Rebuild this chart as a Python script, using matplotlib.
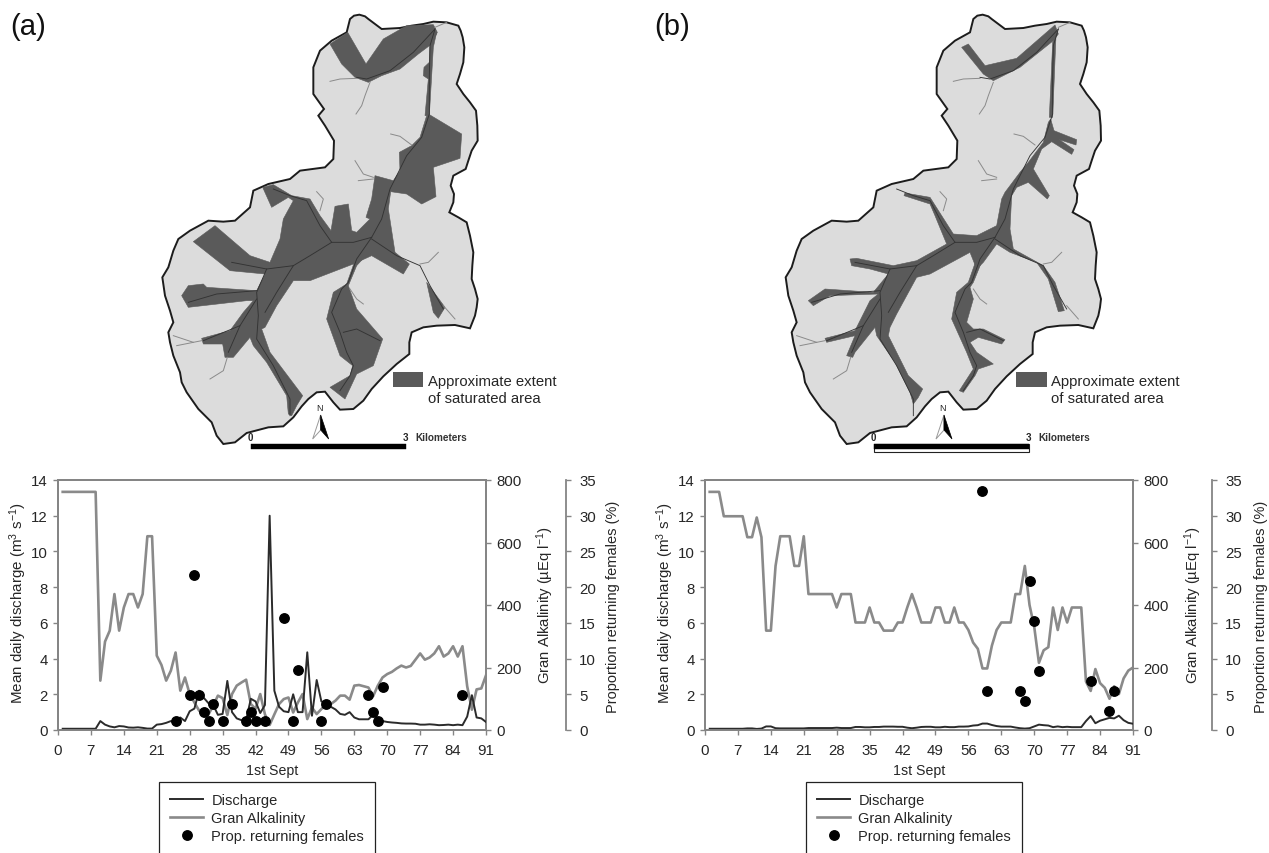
import matplotlib
matplotlib.use("Agg")
import matplotlib.pyplot as plt
from matplotlib.patches import Polygon, Rectangle

plt.rcParams['font.family'] = ['Liberation Sans', 'DejaVu Sans']
plt.rcParams['mathtext.default'] = 'regular'
plt.rcParams['axes.unicode_minus'] = True

W, H = 1269, 854
TEXT = '#262626'
AXC = '#858585'

days = list(range(1, 92))
x_ticks = list(range(0, 92, 7))
left_ticks = [0, 2, 4, 6, 8, 10, 12, 14]
alk_ticks = [0, 200, 400, 600, 800]
prop_ticks = [0, 5, 10, 15, 20, 25, 30, 35]

discharge_a = [.07, .07, .07, .07, .07, .07, .07, .07, .5, .3, .2, .15, .22, .2, .14, .13, .15, .12, .08, .08,
               .3, .33, .4, .5, .42, .7, .5, 1.05, 1.2, 2.2, 1.8, 1.5, 1.4, .85, .9, 2.75, 1.0, .65, .55, .55,
               1.75, 1.6, .95, 1.4, 12.0, 2.2, 1.3, 1.05, 1.0, 2.0, 1.0, 1.0, 4.35, .8, 2.8, 1.6, 1.5, 1.3, 1.15, .9,
               .85, 1.0, .7, .6, .6, .6, .85, .65, .5, .45, .42, .4, .37, .36, .36, .35, .3, .3, .32, .3,
               .27, .28, .3, .27, .3, .27, .75, 1.95, .7, .65, .45]
alk_a = [762, 762, 762, 762, 762, 762, 762, 762, 158, 283, 318, 435, 318, 392, 435, 435, 392, 435, 620, 620,
         238, 208, 158, 190, 248, 126, 168, 115, 88, 62, 50, 50, 78, 110, 102, 48, 115, 142, 152, 161,
         83, 68, 115, 50, 16, 50, 83, 99, 104, 56, 88, 115, 35, 72, 51, 67, 83, 83, 94, 110,
         110, 97, 142, 144, 140, 136, 108, 142, 168, 179, 186, 197, 206, 200, 205, 225, 245, 225, 232, 245,
         268, 235, 245, 268, 235, 268, 140, 65, 130, 133, 175]
prop_days_a = [25, 28, 29, 30, 31, 32, 33, 35, 37, 40, 41, 42, 44, 48, 50, 51, 56, 57, 66, 67, 68, 69, 86]
prop_a = [1.25, 4.85, 21.7, 4.85, 2.5, 1.25, 3.7, 1.25, 3.7, 1.25, 2.5, 1.25, 1.25, 15.7, 1.25, 8.45, 1.25, 3.7,
          4.85, 2.5, 1.25, 6.0, 4.85]

discharge_b = [.07, .07, .07, .07, .07, .07, .07, .07, .09, .09, .06, .08, .2, .2, .1, .09, .09, .09, .09, .09,
               .09, .11, .11, .11, .11, .11, .11, .13, .11, .11, .11, .17, .17, .15, .15, .17, .17, .19, .19, .19,
               .18, .18, .13, .1, .13, .17, .18, .18, .15, .15, .18, .16, .16, .19, .19, .2, .25, .27, .36, .36,
               .28, .22, .19, .19, .19, .14, .1, .08, .1, .2, .3, .27, .25, .16, .2, .16, .18, .16, .16, .16,
               .5, .78, .38, .52, .6, .68, .65, .8, .55, .4, .35]
alk_b = [762, 762, 762, 684, 684, 684, 684, 684, 617, 617, 680, 617, 318, 318, 525, 620, 620, 620, 525, 525,
         620, 435, 435, 435, 435, 435, 435, 392, 435, 435, 435, 344, 344, 344, 392, 344, 344, 318, 318, 318,
         344, 344, 392, 435, 392, 344, 344, 344, 392, 392, 344, 344, 392, 344, 344, 320, 280, 260, 197, 197,
         270, 320, 344, 344, 344, 435, 435, 525, 400, 330, 215, 255, 265, 392, 320, 392, 344, 392, 392, 392,
         155, 125, 195, 150, 135, 100, 140, 115, 165, 190, 200]
prop_days_b = [59, 60, 67, 68, 69, 70, 71, 82, 86, 87]
prop_b = [33.4, 5.5, 5.5, 4.1, 20.8, 15.3, 8.3, 6.9, 2.7, 5.5]

# map geometry, in units of a third of a pixel
boundary = [(600,60),(612,50),(628,47),(645,52),(655,60),(675,75),(695,90),(750,87),(785,80),(820,75),(850,68),(890,70),(925,80),
            (932,95),(938,115),(943,145),(940,190),(930,225),(920,255),(940,285),(960,310),(978,335),(982,380),(983,425),(965,455),
            (955,485),(947,510),(910,530),(902,560),(912,585),(910,610),(898,640),(925,655),(950,670),(960,710),(970,760),
            (967,800),(965,840),(975,870),(983,900),(980,925),(975,950),(960,988),(915,978),(860,980),(820,985),(785,1000),
            (778,1030),(778,1065),(740,1095),(700,1132),(665,1170),(640,1205),(610,1230),(570,1232),(550,1210),(525,1178),
            (500,1180),(475,1200),(455,1222),(430,1255),(400,1282),(355,1285),(290,1302),(255,1330),(220,1335),(200,1310),
            (185,1270),(145,1230),(110,1180),(95,1150),(90,1120),(70,1070),(60,1030),(55,1000),(70,970),(60,935),(45,890),
            (37,835),(55,805),(70,755),(85,720),(120,695),(175,665),(220,668),(255,665),(300,625),(310,575),(355,555),
            (420,540),(450,515),(525,505),(550,480),(552,425),(525,380),(505,350),(522,330),(490,285),(490,205),(510,155),
            (545,125),(590,100)]
sat_a = [
    [(540,135),(593,100),(648,195),(700,120),(770,80),(850,77),(862,100),(845,135),(805,165),(750,210),(695,230),(655,250),(615,235),(575,195)],
    [(840,135),(860,100),(850,145),(838,350),(825,350),(835,240),(820,230),(822,205),(838,190)],
    [(835,345),(935,405),(930,478),(850,505),(858,593),(815,615),(770,585),(722,578),(715,630),(735,760),(778,795),
     (760,825),(665,770),(610,795),(480,845),(430,845),(380,920),(345,985),(335,990),(360,1060),(458,1190),(440,1220),
     (425,1250),(415,1245),(410,1190),(350,1090),(310,1040),(300,1015),(250,1075),(225,1075),(218,1035),(160,1035),
     (155,1018),(240,995),(280,940),(310,905),(290,905),(115,925),(95,890),(115,860),(160,855),(170,865),(320,875),
     (345,825),(240,815),(130,728),(195,680),(300,770),(360,790),(390,720),(400,660),(430,605),(415,595),(365,625),
     (338,565),(370,557),(425,590),(480,600),(510,650),(543,695),(555,622),(595,615),(605,695),(620,700),(660,660),
     (648,655),(665,600),(675,530),(730,545),(750,515),(748,460),(785,440),(810,415),(830,350)],
    [(655,725),(670,745),(620,800),(595,860),(620,930),(698,1020),(670,1100),(620,1125),(585,1200),(540,1165),(600,1130),
     (608,1100),(570,1070),(530,960),(550,880),(590,855),(620,770)],
    [(830,850),(885,925),(865,958),(850,940)],
]
sat_b = [
    [(545,145),(565,135),(615,200),(710,178),(825,78),(835,105),(820,125),(720,205),(640,245),(610,225)],
    [(828,110),(818,355),(808,355),(818,130)],
    [(812,360),(822,395),(890,422),(888,438),(838,422),(882,452),(875,466),(815,428),(785,450),(760,510),(808,590),
     (802,600),(745,550),(710,565),(695,590),(690,690),(700,750),(790,800),(825,850),(853,935),(835,938),(805,840),
     (770,790),(690,760),(650,735),(610,790),(590,810),(570,760),(450,825),(410,835),(350,945),(330,985),(325,1010),
     (385,1130),(428,1170),(415,1195),(400,1215),(390,1180),(345,1090),(290,1010),(285,985),(225,1060),(218,1075),
     (200,1070),(225,1010),(140,1030),(135,1018),(225,995),(270,905),(295,885),(150,890),(100,920),(85,905),(135,870),
     (280,880),(325,825),(270,810),(215,800),(210,780),(230,778),(340,800),(410,785),(500,735),(465,650),(450,615),
     (372,590),(375,582),(450,595),(520,705),(590,710),(650,680),(665,600),(675,580),(720,520),(745,490),(790,430),(805,370)],
    [(625,740),(580,850),(570,865),(580,900),(560,970),(580,990),(610,990),(675,1022),(665,1035),(595,1015),(570,1030),
     (590,1060),(640,1095),(595,1110),(585,1130),(550,1180),(538,1175),(580,1110),(560,1060),(515,960),(530,880),(565,850),(600,750)],
]
tributaries = [
    [(540,247),(570,240),(620,238)], [(660,250),(645,290),(635,320),(618,345)], [(722,405),(750,412),(785,438)],
    [(615,485),(640,525),(670,535)], [(625,545),(670,540)], [(500,578),(520,600),(510,635)],
    [(865,760),(835,790),(810,795)], [(600,870),(620,900),(640,915)], [(880,920),(915,960)],
    [(70,1010),(100,1020),(130,1030),(155,1025)], [(80,1040),(130,1030)], [(232,1075),(220,1115),(180,1140)],
    [(855,85),(890,70)],
]
streams = [
    [(855,90),(840,140),(838,230),(838,345),(815,415),(770,470),(745,520),(720,570),(695,660),(665,715),(610,730),
     (545,730),(510,680),(470,605),(420,590),(370,570)],
    [(665,715),(620,780),(595,850),(575,870),(545,940),(570,1000),(590,1060),(610,1100),(600,1130),(570,1175)],
    [(580,1000),(620,990),(690,1025)],
    [(855,90),(790,160),(720,215),(650,240),(620,235)],
    [(665,720),(740,770),(810,800),(840,860),(880,930)],
    [(545,730),(480,770),(430,800),(380,880),(345,940)],
    [(430,800),(350,810),(245,790)],
    [(320,875),(200,885),(115,910)],
    [(350,810),(320,880),(325,950),(320,1020),(370,1100),(420,1200),(420,1250)],
    [(320,900),(270,980),(160,1025)],
    [(270,980),(235,1060)],
]

fig = plt.figure(figsize=(W / 100, H / 100), dpi=100)
bg = fig.add_axes([0, 0, 1, 1])
bg.set_xlim(0, W)
bg.set_ylim(H, 0)
bg.axis('off')


def draw_map(ox, dx, sat, swatch_x, text_x, bar_white):
    def P(pts, shift):
        return [(ox + (x + shift) / 3, y / 3) for x, y in pts]
    bg.add_patch(Polygon(P(boundary, dx), closed=True, fc='#dcdcdc', ec='#1c1c1c', lw=1.4, zorder=1))
    for s in sat:
        bg.add_patch(Polygon(P(s, 0), closed=True, fc='#5a5a5a', ec='#5a5a5a', lw=0.4, zorder=2))
    for t in tributaries:
        xs, ys = zip(*P(t, dx))
        bg.plot(xs, ys, color='#8a8a8a', lw=0.7, zorder=3)
    for t in streams:
        xs, ys = zip(*P(t, dx))
        bg.plot(xs, ys, color='#333333', lw=0.65, zorder=3)
    bg.add_patch(Rectangle((swatch_x, 372.7), 30.5, 15, fc='#5a5a5a', ec='none', zorder=3))
    bg.text(text_x, 382.5, 'Approximate extent', fontsize=10.7, color=TEXT, va='center', ha='left')
    bg.text(text_x, 399.5, 'of saturated area', fontsize=10.7, color=TEXT, va='center', ha='left')
    c = ox + (512 + dx) / 3
    bg.add_patch(Polygon([(c, 416), (c, 431), (c - 8, 440)], closed=True, fc='white', ec='#999999', lw=0.7, zorder=4))
    bg.add_patch(Polygon([(c, 416), (c, 431), (c + 8, 440)], closed=True, fc='black', ec='black', lw=0.5, zorder=4))
    bg.text(c - 1, 409, 'N', fontsize=6.5, color=TEXT, ha='center', va='center')
    x0 = ox + (302 + dx) / 3
    x1 = ox + (768 + dx) / 3
    if bar_white:
        bg.add_patch(Rectangle((x0, 445), x1 - x0, 7.5, fc='white', ec='#222222', lw=0.8, zorder=4))
    bg.add_patch(Rectangle((x0, 445), x1 - x0, 4.5, fc='black', ec='black', lw=0.3, zorder=4))
    bg.text(x0 - 0.5, 438.5, '0', fontsize=7, fontweight='bold', color=TEXT, ha='center', va='center')
    bg.text(x1 - 1, 438.5, '3', fontsize=7, fontweight='bold', color=TEXT, ha='center', va='center')
    bg.text(x1 + 9.5, 438.5, 'Kilometers', fontsize=7.2, fontweight='bold', color='#333333', ha='left', va='center')


def draw_chart(left, right, third, alk_x, prop_x, lab_x, discharge, alk, pdays, prop, leg_x):
    top, bottom = 481, 731
    ax = fig.add_axes([left / W, 1 - bottom / H, (right - left) / W, (bottom - top) / H])
    ax.patch.set_alpha(0)
    ax2 = ax.twinx()
    ax3 = ax.twinx()
    l1, = ax.plot(days, discharge, color='#2b2b2b', lw=1.4, label='Discharge', zorder=4)
    l2, = ax2.plot(days, alk, color='#8a8a8a', lw=1.9, label='Gran Alkalinity', zorder=3)
    l3, = ax3.plot(pdays, prop, ls='none', marker='o', ms=6.8, color='black', label='Prop. returning females', zorder=5)
    ax.set_zorder(3)
    ax2.set_zorder(2)
    ax3.set_zorder(4)
    ax2.patch.set_alpha(0)
    ax3.patch.set_alpha(0)
    ax.set_xlim(0, 91)
    ax.set_ylim(0, 14)
    ax2.set_ylim(0, 800)
    ax3.set_ylim(0, 35)
    ax.set_xticks(x_ticks)
    ax.set_yticks(left_ticks)
    ax2.set_yticks(alk_ticks)
    ax3.set_yticks(prop_ticks)
    for a in (ax, ax2, ax3):
        for s in a.spines.values():
            s.set_color(AXC)
            s.set_linewidth(1.3)
        a.tick_params(colors=TEXT, labelsize=10.8, length=3.5, width=1.0, color=AXC, pad=4)
    ax3.spines['right'].set_position(('outward', (third - right) * 0.72))
    ax3.tick_params(axis='y', pad=6)
    ax.tick_params(axis='x', pad=6)
    ax.set_xlabel('1st Sept', fontsize=10.2, color=TEXT, labelpad=4)
    fig.text(lab_x / W, 1 - 603 / H, 'Mean daily discharge (m$^{3}$ s$^{-1}$)', rotation=90, fontsize=10.9, color=TEXT,
             ha='center', va='center')
    fig.text(alk_x / W, 1 - 605 / H, 'Gran Alkalinity (µEq l$^{-1}$)', rotation=90, fontsize=10.7, color=TEXT,
             ha='center', va='center')
    fig.text(prop_x / W, 1 - 607 / H, 'Proportion returning females (%)', rotation=90, fontsize=10.5, color=TEXT,
             ha='center', va='center')
    leg = ax3.legend(handles=[l1, l2, l3], loc='upper left', bbox_to_anchor=(leg_x / W, 1 - 783 / H),
                     bbox_transform=fig.transFigure, borderaxespad=0, frameon=True, fancybox=False, framealpha=1,
                     edgecolor='#222222', fontsize=10.5, handlelength=2.3, handletextpad=0.55, labelspacing=0.27,
                     borderpad=0.75, labelcolor=TEXT)
    leg.get_frame().set_linewidth(0.9)


draw_map(150, 0, sat_a, 392.7, 428, False)
draw_map(780, -20, sat_b, 1016, 1051, True)
bg.text(10, 27, '(a)', fontsize=21, color='#111111', va='center', ha='left')
bg.text(654, 27, '(b)', fontsize=21, color='#111111', va='center', ha='left')

draw_chart(58, 486, 566, 545, 613, 18, discharge_a, alk_a, prop_days_a, prop_a, 159)
draw_chart(705, 1133, 1212, 1193, 1261, 665, discharge_b, alk_b, prop_days_b, prop_b, 806)

fig.savefig('out.png', dpi=100)
